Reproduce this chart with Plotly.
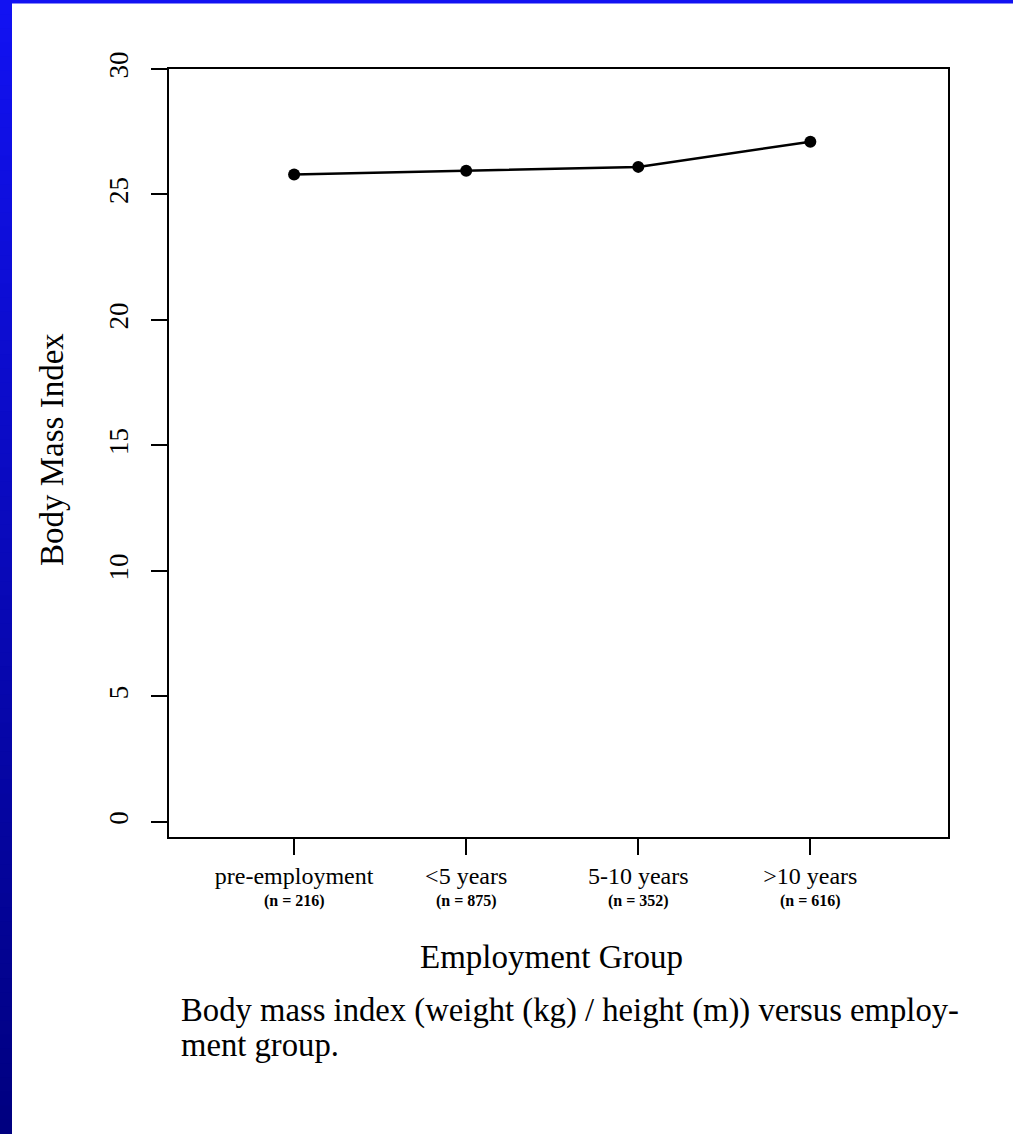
import plotly.graph_objects as go

# ---- data ----
categories = ["pre-employment", "<5 years", "5-10 years", ">10 years"]
group_n = ["(n = 216)", "(n = 875)", "(n = 352)", "(n = 616)"]
bmi = [25.8, 25.95, 26.1, 27.1]
y_ticks = [0, 5, 10, 15, 20, 25, 30]

W, H = 1013, 1134
L, R, T, B = 169, 65, 69, 297
pw, ph = W - L - R, H - T - B

def px(x):
    return (x - L) / pw

def py(y):
    return (H - B - y) / ph

FONT = "Liberation Serif"

fig = go.Figure()
fig.add_trace(go.Scatter(
    x=categories, y=bmi, mode="lines+markers",
    line=dict(color="black", width=2.5),
    marker=dict(color="black", size=12),
    showlegend=False, hoverinfo="x+y",
))

shapes = []
# left gradient strip of the slide frame
n = 80
for i in range(n):
    t = i / (n - 1)
    r = int(round(18 * (1 - t)))
    g = int(round(18 * (1 - t)))
    b = int(round(242 + (128 - 242) * t))
    y0 = H * i / n
    y1 = H * (i + 1) / n + 1
    shapes.append(dict(type="rect", xref="paper", yref="paper",
                       x0=px(0), x1=px(12), y0=py(y1), y1=py(y0),
                       fillcolor=f"rgb({r},{g},{b})", line=dict(width=0), layer="above"))
# top strip
shapes.append(dict(type="rect", xref="paper", yref="paper",
                   x0=px(0), x1=px(W), y0=py(3.5), y1=py(0),
                   fillcolor="rgb(18,18,242)", line=dict(width=0), layer="above"))

annotations = []
for c, nn in zip(categories, group_n):
    annotations.append(dict(x=c, xref="x", y=py(901), yref="paper",
                            text=f"<b>{nn}</b>", showarrow=False, xanchor="center", yanchor="middle",
                            font=dict(family=FONT, size=16, color="black")))
annotations.append(dict(x=px(52), y=py(450), xref="paper", yref="paper",
                        text="Body Mass Index", textangle=-90, showarrow=False,
                        xanchor="center", yanchor="middle",
                        font=dict(family=FONT, size=33, color="black")))
annotations.append(dict(x=px(551), y=py(957), xref="paper", yref="paper",
                        text="Employment Group", showarrow=False,
                        xanchor="center", yanchor="middle",
                        font=dict(family=FONT, size=33, color="black")))
annotations.append(dict(x=px(179), y=py(1010), xref="paper", yref="paper",
                        text="Body mass index (weight (kg) / height (m)) versus employ-",
                        showarrow=False, xanchor="left", yanchor="middle",
                        font=dict(family=FONT, size=32.7, color="black")))
annotations.append(dict(x=px(179), y=py(1045), xref="paper", yref="paper",
                        text="ment group.", showarrow=False, xanchor="left", yanchor="middle",
                        font=dict(family=FONT, size=32.7, color="black")))

fig.update_layout(
    width=W, height=H,
    margin=dict(l=L, r=R, t=T, b=B, pad=0),
    paper_bgcolor="white", plot_bgcolor="white",
    shapes=shapes, annotations=annotations,
    font=dict(family=FONT, color="black"),
)
fig.update_xaxes(
    type="category", range=[-0.727, 3.80],
    showline=True, mirror=True, linecolor="black", linewidth=2,
    ticks="outside", ticklen=16, tickwidth=2, tickcolor="black",
    showgrid=False, zeroline=False,
    tickfont=dict(family=FONT, size=24, color="black"),
    ticklabelstandoff=0,
)
fig.update_yaxes(
    range=[-0.6, 30], tickvals=y_ticks, ticktext=[str(v) for v in y_ticks],
    showline=True, mirror=True, linecolor="black", linewidth=2,
    ticks="outside", ticklen=16, tickwidth=2, tickcolor="black",
    showgrid=False, zeroline=False, tickangle=-90,
    tickfont=dict(family=FONT, size=27, color="black"),
    ticklabelstandoff=12,
)

fig.write_html("out.html", config={"displayModeBar": False},
               post_script="document.body.style.margin='0';document.body.style.overflow='hidden';")
